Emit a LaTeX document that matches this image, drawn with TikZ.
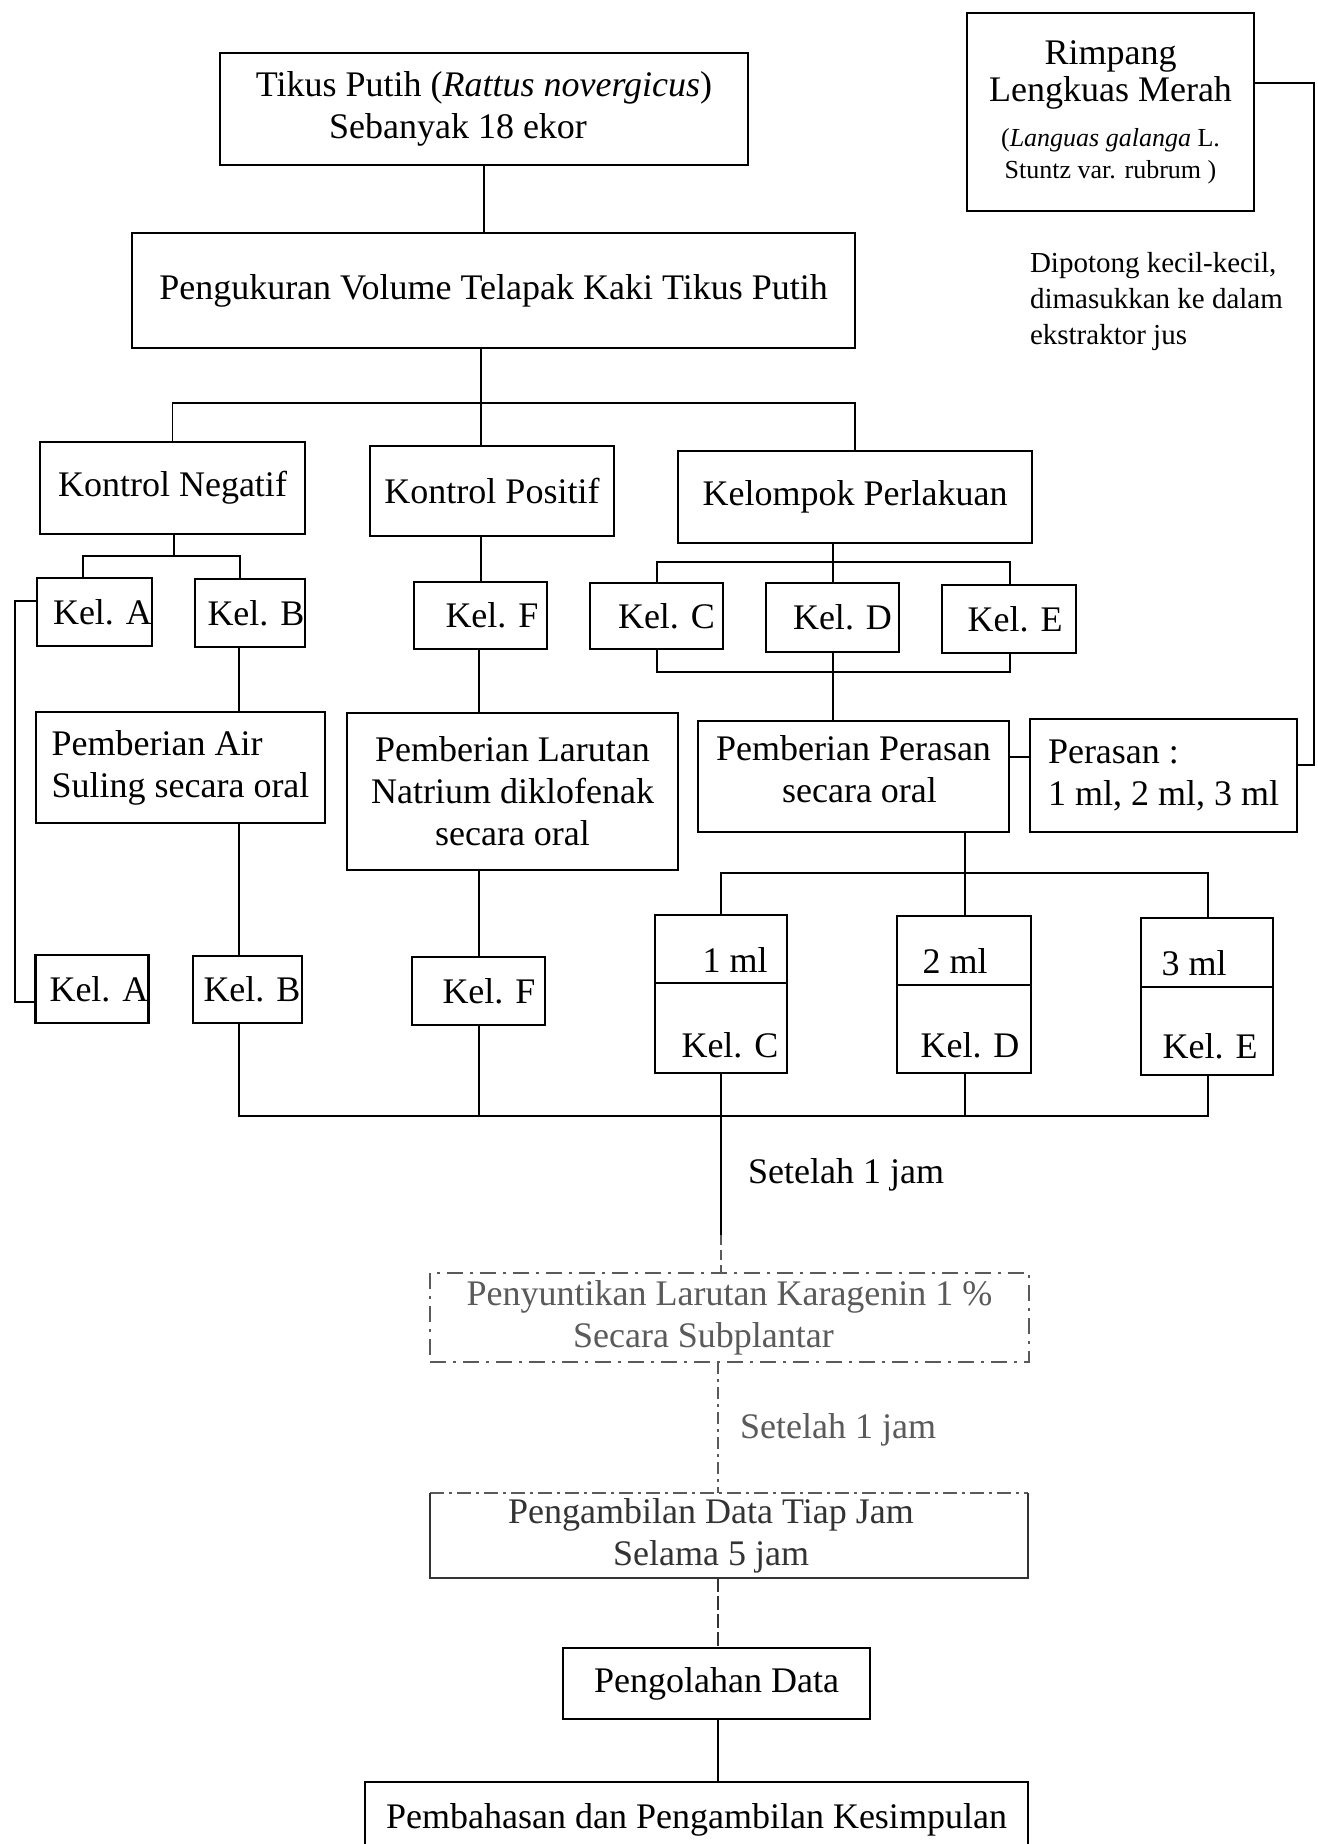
\documentclass[tikz,border=0pt]{standalone}
\usepackage{fontspec}
\setmainfont{Liberation Serif}
\newcommand{\mfs}{\fontsize{36}{42}\selectfont}
\newcommand{\smfs}{\fontsize{26}{32}\selectfont}
\definecolor{fade}{HTML}{5A5A5A}
\definecolor{fade2}{HTML}{333333}
\begin{document}
\begin{tikzpicture}[x=1pt,y=-1pt,
  box/.style={draw, line width=2.3pt, inner sep=0pt, outer sep=0pt, font=\mfs, align=center},
  conn/.style={line width=1.8pt},
  txt/.style={inner sep=0pt, outer sep=0pt, font=\mfs},
]
\useasboundingbox (0,0) rectangle (1317,1844);
\fill[white] (0,0) rectangle (1317,1844);
\clip (0,0) rectangle (1317,1844);

% ---------- top ----------
\node[box, minimum width=528pt, minimum height=112pt] (tikus) at (484,109)
  {Tikus Putih (\textit{Rattus novergicus})\\Sebanyak 18 ekor\hspace*{52pt}};
\node[box, minimum width=287pt, minimum height=198pt, font=\fontsize{36}{37}\selectfont] (rimpang) at (1110.5,112)
  {Rimpang\\Lengkuas Merah\\[8pt]{\smfs(\textit{Languas galanga} L.}\\[-5pt]{\smfs Stuntz var. rubrum )}};
\node[txt, font=\fontsize{29}{36}\selectfont, align=left, anchor=north west] (dip) at (1030,252)
  {Dipotong kecil-kecil,\\dimasukkan ke dalam\\ekstraktor jus};
\node[box, minimum width=723pt, minimum height=115pt] (peng) at (493.5,290.5)
  {Pengukuran Volume Telapak Kaki Tikus Putih};

% ---------- groups ----------
\node[box, minimum width=265pt, minimum height=92pt] (kn) at (172.5,488) {Kontrol Negatif};
\node[box, minimum width=244pt, minimum height=90pt] (kp) at (492,491) {Kontrol Positif};
\node[box, minimum width=354pt, minimum height=92pt] (kper) at (855,497) {Kelompok Perlakuan};

\node[box, minimum width=113pt, minimum height=68pt] (kelA1) at (94.5,612) {\hspace*{16pt}Kel. A};
\node[box, minimum width=110pt, minimum height=68pt] (kelB1) at (250,613) {\hspace*{12pt}Kel. B};
\node[box, minimum width=133pt, minimum height=67pt] (kelF1) at (480.5,615.5) {\hspace*{23pt}Kel. F};
\node[box, minimum width=133pt, minimum height=66pt] (kelC1) at (656.5,616) {\hspace*{20pt}Kel. C};
\node[box, minimum width=133pt, minimum height=69pt] (kelD1) at (832.5,617.5) {\hspace*{20pt}Kel. D};
\node[box, minimum width=134pt, minimum height=68pt] (kelE1) at (1009,619) {\hspace*{12pt}Kel. E};

% ---------- treatments ----------
\node[box, align=left, minimum width=289pt, minimum height=111pt] (pair) at (180.5,767.5)
  {Pemberian Air\\Suling secara oral};
\node[box, minimum width=331pt, minimum height=157pt] (plar) at (512.5,791.5)
  {Pemberian Larutan\\Natrium diklofenak\\secara oral};
\node[box, minimum width=311pt, minimum height=111pt] (pper) at (853.5,776.5)
  {Pemberian Perasan\\secara oral\hspace*{-12pt}\rule[-14pt]{0pt}{1pt}};
\node[box, align=left, minimum width=267pt, minimum height=113pt] (perasan) at (1163.5,775.5)
  {Perasan :\\1 ml, 2 ml, 3 ml};

% ---------- second group row ----------
\node[box, minimum width=112pt, minimum height=68pt] (kelA2) at (92,989) {\hspace*{14pt}Kel. A};
\node[box, minimum width=109pt, minimum height=67pt] (kelB2) at (247.5,989.5) {\hspace*{9pt}Kel. B};
\node[box, minimum width=133pt, minimum height=68pt] (kelF2) at (478.5,991) {\hspace*{21pt}Kel. F};

\node[box, minimum width=132pt, minimum height=158pt] (ml1) at (721,994) {};
\node[box, minimum width=134pt, minimum height=157pt] (ml2) at (964,994.5) {};
\node[box, minimum width=132pt, minimum height=157pt] (ml3) at (1207,996.5) {};
\draw[line width=2.3pt] ([yshift=-68pt]ml1.north west) -- ([yshift=-68pt]ml1.north east);
\draw[line width=2.3pt] ([yshift=-69pt]ml2.north west) -- ([yshift=-69pt]ml2.north east);
\draw[line width=2.3pt] ([yshift=-69pt]ml3.north west) -- ([yshift=-69pt]ml3.north east);
\node[txt, anchor=base] (ml1a) at (735,972) {1 ml};
\node[txt, anchor=base] (ml1b) at (730,1057) {Kel. C};
\node[txt, anchor=base] (ml2a) at (955,973) {2 ml};
\node[txt, anchor=base] (ml2b) at (970,1057) {Kel. D};
\node[txt, anchor=base] (ml3a) at (1194,975) {3 ml};
\node[txt, anchor=base] (ml3b) at (1210,1058) {Kel. E};

% ---------- lower flow ----------
\node[txt] (lab1) at (846,1175) {Setelah 1 jam};
\node[box, draw=fade, text=fade, dash pattern=on 16pt off 7pt on 3pt off 7pt, minimum width=599pt, minimum height=89pt] (pen) at (729.5,1317.5)
  {Penyuntikan Larutan Karagenin 1 \%\\Secara Subplantar\hspace*{52pt}};
\node[txt, text=fade] (lab2) at (838,1430) {Setelah 1 jam};
\node[box, draw=none, text=fade2, minimum width=598pt, minimum height=85pt] (pamb) at (729,1535.5)
  {Pengambilan Data Tiap Jam\hspace*{36pt}\\Selama 5 jam\hspace*{36pt}};
\draw[line width=2.3pt, fade, dash pattern=on 14pt off 5pt on 3pt off 5pt] (pamb.north west) -- (pamb.north east);
\draw[line width=2.3pt, fade2] (pamb.north east) -- (pamb.south east) -- (pamb.south west) -- (pamb.north west);
\node[box, minimum width=307pt, minimum height=71pt] (polah) at (716.5,1683.5) {Pengolahan Data};
\node[box, minimum width=663pt, minimum height=76pt] (pbhs) at (696.5,1820)
  {Pembahasan dan Pengambilan Kesimpulan};

% ---------- connectors ----------
\draw[conn] (tikus.south) -- (tikus.south |- peng.north);
\coordinate (b1) at (481,403);
\draw[conn] (b1 |- peng.south) -- (b1);
\draw[conn] (kn.north) |- (b1) -| (kper.north);
\draw[conn] (b1) -- (b1 |- kp.north);

\coordinate (b2) at (174,556);
\coordinate (b2l) at (83,556);
\coordinate (b2r) at (240,556);
\draw[conn] (b2 |- kn.south) -- (b2);
\draw[conn] (b2l |- kelA1.north) -- (b2l) -- (b2r) -- (b2r |- kelB1.north);

\coordinate (la) at (15,601);
\coordinate (lb) at (15,1002);
\draw[conn] (la -| kelA1.west) -- (la) -- (lb) -- (lb -| kelA2.west);

\draw[conn] (b1 |- kp.south) -- (b1 |- kelF1.north);

\coordinate (b3) at (833,562);
\coordinate (b3l) at (657,562);
\coordinate (b3r) at (1010,562);
\draw[conn] (b3 |- kper.south) -- (b3);
\draw[conn] (b3l |- kelC1.north) -- (b3l) -- (b3r) -- (b3r |- kelE1.north);
\draw[conn] (b3) -- (b3 |- kelD1.north);
\coordinate (b4l) at (657,672);
\coordinate (b4r) at (1010,672);
\draw[conn] (b4l |- kelC1.south) -- (b4l) -- (b4r) -- (b4r |- kelE1.south);
\draw[conn] (b3 |- kelD1.south) -- (b3 |- pper.north);

\coordinate (xB) at (239,0);
\coordinate (xF) at (479,0);
\draw[conn] (xB |- kelB1.south) -- (xB |- pair.north);
\draw[conn] (xB |- pair.south) -- (xB |- kelB2.north);
\draw[conn] (xF |- kelF1.south) -- (xF |- plar.north);
\draw[conn] (xF |- plar.south) -- (xF |- kelF2.north);

\coordinate (yP) at (0,757);
\draw[conn] (yP -| pper.east) -- (yP -| perasan.west);
\coordinate (r1) at (1314,83);
\coordinate (r2) at (1314,765);
\draw[conn] (r1 -| rimpang.east) -- (r1) -- (r2) -- (r2 -| perasan.east);

\coordinate (b5) at (965,873);
\coordinate (b5l) at (721,873);
\coordinate (b5r) at (1208,873);
\draw[conn] (b5 |- pper.south) -- (b5);
\draw[conn] (b5l |- ml1.north) -- (b5l) -- (b5r) -- (b5r |- ml3.north);
\draw[conn] (b5) -- (b5 |- ml2.north);

\coordinate (b6l) at (239,1116);
\coordinate (b6r) at (1208,1116);
\coordinate (b6F) at (479,1116);
\coordinate (b6C) at (721,1116);
\coordinate (b6D) at (965,1116);
\draw[conn] (b6l |- kelB2.south) -- (b6l) -- (b6r) -- (b6r |- ml3.south);
\draw[conn] (b6F |- kelF2.south) -- (b6F);
\draw[conn] (b6C |- ml1.south) -- (b6C);
\draw[conn] (b6D |- ml2.south) -- (b6D);
\coordinate (d1) at (721,1235);
\draw[conn] (b6C) -- (d1);
\draw[conn, fade, dash pattern=on 10pt off 5pt] (d1) -- (d1 |- pen.north);
\coordinate (x7) at (718,0);
\draw[conn, fade, dash pattern=on 12pt off 5pt on 3pt off 5pt] (x7 |- pen.south) -- (x7 |- pamb.north);
\draw[conn, fade2, dash pattern=on 14pt off 4pt] (x7 |- pamb.south) -- (x7 |- polah.north);
\draw[conn] (x7 |- polah.south) -- (x7 |- pbhs.north);
\end{tikzpicture}
\end{document}
